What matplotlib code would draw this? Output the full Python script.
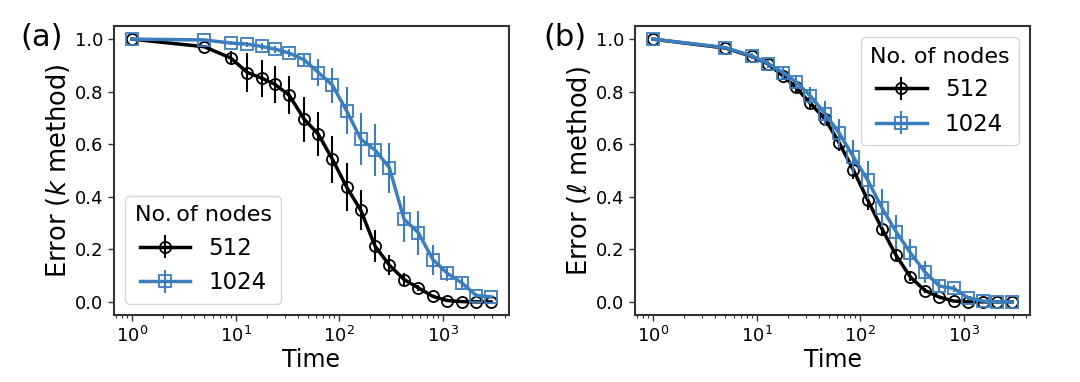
import matplotlib
matplotlib.use("Agg")
import matplotlib.pyplot as plt
import numpy as np

# Time points (same for all series)
time = [1, 5, 9, 13, 18, 24, 33, 46, 63, 86, 118, 162, 222, 305, 423, 582, 802, 1110, 1531, 2105, 2923]

# Panel (a): k method
a_512 = [1.0, 0.971, 0.928, 0.873, 0.851, 0.828, 0.786, 0.695, 0.638, 0.543, 0.437, 0.348,
         0.212, 0.140, 0.085, 0.053, 0.021, 0.005, 0.001, 0.0, 0.0]
a_512_err = [0.0, 0.005, 0.028, 0.073, 0.071, 0.070, 0.072, 0.086, 0.083, 0.089, 0.091, 0.076,
             0.062, 0.038, 0.025, 0.012, 0.006, 0.003, 0.002, 0.001, 0.0]
a_1024 = [1.0, 0.997, 0.985, 0.981, 0.972, 0.962, 0.947, 0.921, 0.873, 0.825, 0.727, 0.619,
          0.578, 0.511, 0.314, 0.263, 0.161, 0.108, 0.072, 0.024, 0.019]
a_1024_err = [0.0, 0.003, 0.008, 0.010, 0.012, 0.013, 0.015, 0.020, 0.050, 0.067, 0.089, 0.098,
              0.099, 0.095, 0.088, 0.083, 0.057, 0.027, 0.020, 0.010, 0.005]

# Panel (b): ell method
b_512 = [1.0, 0.966, 0.934, 0.905, 0.860, 0.816, 0.756, 0.695, 0.604, 0.502, 0.388, 0.279,
         0.177, 0.095, 0.043, 0.018, 0.003, 0.0, 0.0, 0.0, 0.0]
b_512_err = [0.0, 0.005, 0.010, 0.012, 0.015, 0.018, 0.020, 0.022, 0.030, 0.035, 0.038, 0.030,
             0.022, 0.015, 0.010, 0.005, 0.003, 0.001, 0.0, 0.0, 0.0]
b_1024 = [1.0, 0.968, 0.936, 0.907, 0.873, 0.838, 0.784, 0.716, 0.641, 0.552, 0.464, 0.358,
          0.267, 0.187, 0.113, 0.060, 0.051, 0.015, 0.003, 0.0, 0.0]
b_1024_err = [0.0, 0.005, 0.010, 0.015, 0.020, 0.025, 0.032, 0.048, 0.054, 0.064, 0.073, 0.073,
              0.064, 0.054, 0.041, 0.020, 0.015, 0.008, 0.003, 0.001, 0.0]

labels = ["512", "1024"]
ylabels = [r"Error ($k$ method)", r"Error ($\ell$ method)"]
panel_tags = ["(a)", "(b)"]
legend_titles = ["No.\u2009of nodes", "No. of nodes"]

BLUE = "#3b7dbd"
BLACK = "black"

fig = plt.figure(figsize=(10.8, 3.82), dpi=100)
ax_a = fig.add_axes([114/1080, 1-315/382, 395/1080, 289/382])
ax_b = fig.add_axes([635/1080, 1-315/382, 395/1080, 289/382])

panels = [
    (ax_a, a_512, a_512_err, a_1024, a_1024_err, "lower left"),
    (ax_b, b_512, b_512_err, b_1024, b_1024_err, "upper right"),
]

for i, (ax, y1, e1, y2, e2, loc) in enumerate(panels):
    ax.errorbar(time, y1, yerr=e1, color=BLACK, marker="o", markersize=8,
                markerfacecolor="none", markeredgecolor=BLACK, markeredgewidth=1.3,
                lw=2.5, elinewidth=1.5, capsize=0, label=labels[0], zorder=3)
    ax.errorbar(time, y2, yerr=e2, color=BLUE, marker="s", markersize=8,
                markerfacecolor="none", markeredgecolor=BLUE, markeredgewidth=1.3,
                lw=2.5, elinewidth=1.5, capsize=0, label=labels[1], zorder=4)
    ax.set_xscale("log")
    ax.set_ylim(-0.05, 1.05)
    ax.set_yticks([0.0, 0.2, 0.4, 0.6, 0.8, 1.0])
    ax.set_xlabel("Time", fontsize=17, labelpad=2)
    ax.set_ylabel(ylabels[i], fontsize=18.5, labelpad=2)
    ax.tick_params(labelsize=13, direction="out", length=4, width=1, color="#333333")
    ax.tick_params(which="minor", length=2.5, width=0.8, color="#333333")
    for s in ax.spines.values():
        s.set_color("#333333")
        s.set_linewidth(1.5)
    leg = ax.legend(loc=loc, title=legend_titles[i], fontsize=16.5, title_fontsize=16,
                    framealpha=0.8, handlelength=2.2, borderpad=0.4, labelspacing=0.5)

fig.text(20/1080, 1-38/382, panel_tags[0], fontsize=22, va="center", ha="left")
fig.text(543/1080, 1-38/382, panel_tags[1], fontsize=22, va="center", ha="left")

fig.savefig("out.png", dpi=100)
